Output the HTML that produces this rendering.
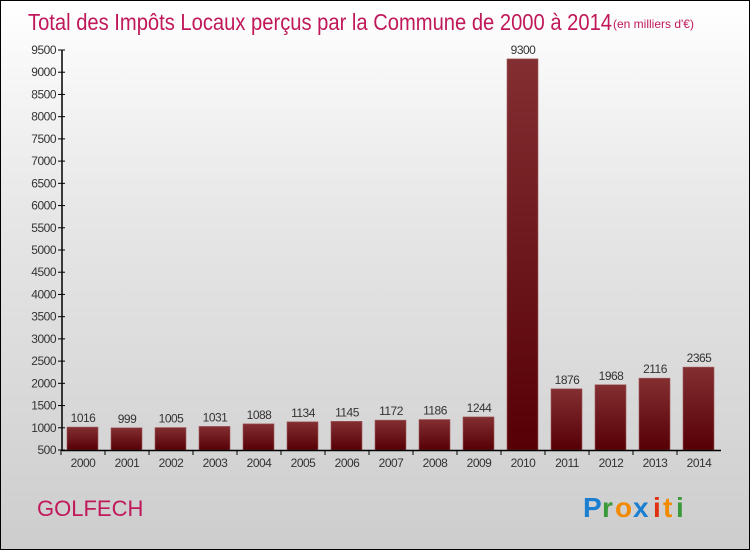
<!DOCTYPE html>
<html><head><meta charset="utf-8"><style>
body{margin:0;width:750px;height:550px;overflow:hidden}
#c{position:relative;width:748px;height:548px;border:1px solid #000;background:linear-gradient(#fff,#e6e6e6 40%,#cdcdcd)}
svg{position:absolute;left:0;top:0}
text{font-family:"Liberation Sans",sans-serif}
</style></head><body>
<div id="c">
<svg id="s" width="748" height="548">
<defs><linearGradient id="g" x1="0" y1="0" x2="0" y2="1"><stop offset="0" stop-color="#832f32"/><stop offset="1" stop-color="#560005"/></linearGradient></defs>
<text x="27" y="29" font-size="23" fill="#c0185a" textLength="584" lengthAdjust="spacingAndGlyphs">Total des Impôts Locaux perçus par la Commune de 2000 à 2014</text>
<text x="612" y="27" font-size="12" fill="#c0185a">(en milliers d'€)</text>
<text x="36" y="515" font-size="22" fill="#c0185a">GOLFECH</text>
<g font-size="28" font-weight="bold">
<text x="582" y="516" fill="#1a7fd0">P</text><text x="601" y="516" fill="#3a9a3a">r</text><text x="614" y="516" fill="#f28a00">o</text><text x="632" y="516" fill="#1a7fd0">x</text><text x="652" y="516" fill="#e03010">i</text><text x="662" y="516" fill="#f28a00">t</text><text x="675" y="516" fill="#3a9a3a">i</text></g>
</svg>
</div>
<script>
const years=["2000","2001","2002","2003","2004","2005","2006","2007","2008","2009","2010","2011","2012","2013","2014"];
const values=[1016,999,1005,1031,1088,1134,1145,1172,1186,1244,9300,1876,1968,2116,2365];
const yTicks=[500,1000,1500,2000,2500,3000,3500,4000,4500,5000,5500,6000,6500,7000,7500,8000,8500,9000,9500];
const NS="http://www.w3.org/2000/svg",s=document.getElementById('s');
const y=v=>449-(v-500)*400/9000, x=i=>81+i*44;
function el(t,a,txt){const e=document.createElementNS(NS,t);for(const k in a)e.setAttribute(k,a[k]);if(txt!=null)e.textContent=txt;s.appendChild(e);return e;}
yTicks.forEach(v=>{
const l=el('line',{x1:57,x2:64,y1:y(v),y2:y(v),stroke:'#000'});


const t=el('text',{x:55,y:y(v)+4,'font-size':12,'text-anchor':'end',fill:'#333','letter-spacing':'-0.5'},v);


});
values.forEach((v,i)=>{
const r=el('rect',{x:x(i)-15,y:y(v),width:31,height:449-y(v),fill:'url(#g)',stroke:'#a05a5c','stroke-width':0.6});


const t=el('text',{x:x(i)+1,y:y(v)-5,'font-size':12,'text-anchor':'middle',fill:'#333','letter-spacing':'-0.5'},v);


const k=el('line',{x1:x(i)-21,x2:x(i)-21,y1:449,y2:454,stroke:'#000'});


const xl=el('text',{x:x(i)+1,y:466,'font-size':12,'text-anchor':'middle',fill:'#333','letter-spacing':'-0.5'},years[i]);


});
const ya=el('line',{x1:61,x2:61,y1:y(9500),y2:450,stroke:'#000','stroke-width':1.5});


const xa=el('line',{x1:61,x2:720,y1:449.5,y2:449.5,stroke:'#000','stroke-width':1.5});


</script>
</body></html>
